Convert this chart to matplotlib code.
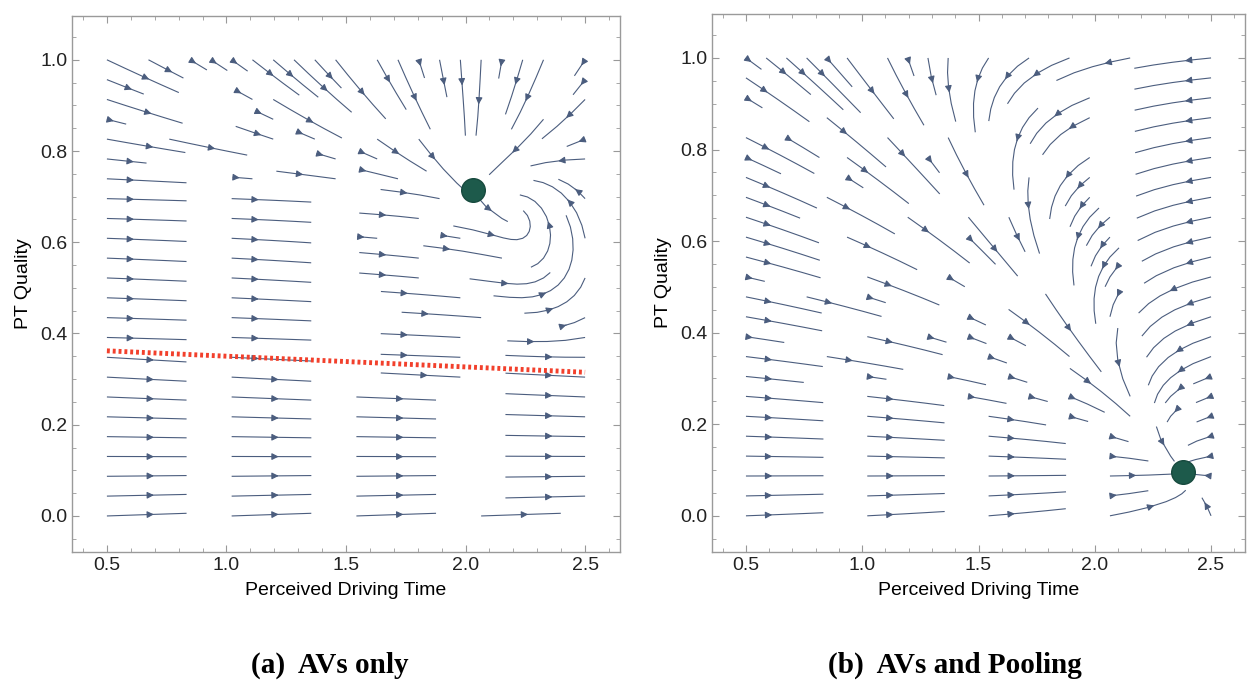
import numpy as np
import matplotlib.pyplot as plt
from matplotlib.ticker import MultipleLocator

#%% Data.
# fixed points (perceived driving time, PT quality)
fixed_a = [2.03, 0.715]
fixed_b = [2.38, 0.095]
# red separatrix in panel (a)
sep_x = [0.5, 2.5]
sep_y = [0.362, 0.315]
# slow direction in panel (b): slope of the diagonal the streams collapse onto
diag_slope_b = -0.6

x_ticks = [0.5, 1.0, 1.5, 2.0, 2.5]
y_ticks = [0.0, 0.2, 0.4, 0.6, 0.8, 1.0]
panel_titles = ["(a)  AVs only", "(b)  AVs and Pooling"]

stream_col = "#4b5d7e"
node_col = "#1d5a4b"
sep_col = "#f2402c"

#%% Vector fields on the stream grid.
gx = np.linspace(0.5, 2.5, 200)
gy = np.linspace(0.0, 1.0, 200)
X, Y = np.meshgrid(gx, gy)


def unit(u, v):
    n = np.hypot(u, v) + 1e-9
    return u / n, v / n


def field_a(X, Y):
    dx = X - fixed_a[0]
    dy = (Y - fixed_a[1]) * 1.9
    below = 1 / (1 + np.exp(dy / 0.08))
    turn = 1 / (1 + np.exp(-(dx - 0.2) / 0.05))
    s = sep_y[0] + (sep_y[1] - sep_y[0]) * (X - sep_x[0]) / (sep_x[1] - sep_x[0])
    d = Y - s
    g = np.exp(-np.clip(d, 0, None) / 0.08)
    # upper basin: attracted to the node, swinging round from below-right
    u_up = -dx + 1.6 * (-dy) * below + 1.8 * g
    v_up = (-0.7 * dy * (1 - below)
            + below * (1.3 * (dx - 0.1) * turn * (1 - g) ** 2 - 0.05))
    u_up, v_up = unit(u_up, v_up)
    # lower region: everything drifts right
    u_lo = np.ones_like(X)
    v_lo = -0.15 * (Y - 0.12)
    u_lo, v_lo = unit(u_lo, v_lo)
    w = 1 / (1 + np.exp(-d / 0.008))
    return w * u_up + (1 - w) * u_lo, w * v_up + (1 - w) * v_lo


def field_b(X, Y):
    dx = X - fixed_b[0]
    dy = Y - fixed_b[1]
    a = dy / -diag_slope_b
    b = dx + a
    u = a - 2.5 * b * (1 + 1.5 * np.clip(b, 0, None) ** 2)
    v = diag_slope_b * a
    return u, v


#%% Figure.
fig = plt.figure(figsize=(12.51, 6.81), dpi=100)
plt.rcParams['font.family'] = ['Liberation Sans', 'DejaVu Sans']
ax_a = fig.add_axes([72 / 1251, 1 - 552 / 681, 548 / 1251, 536 / 681])
ax_b = fig.add_axes([712 / 1251, 1 - 552 / 681, 533 / 1251, 538 / 681])

for ax, fld, fp in [(ax_a, field_a, fixed_a), (ax_b, field_b, fixed_b)]:
    U, V = fld(X, Y)
    ax.streamplot(X, Y, U, V, density=0.8, color=stream_col, linewidth=0.8,
                  arrowsize=1.0, arrowstyle='-|>', maxlength=0.36, minlength=0.03,
                  integration_direction='both')
    ax.plot(fp[0], fp[1], 'o', ms=17, color=node_col, mec="#174a3e", zorder=5)
    ax.set_xlim(0.354, 2.646)
    ax.set_ylim(-0.079, 1.096)
    ax.set_xticks(x_ticks)
    ax.set_yticks(y_ticks)
    ax.xaxis.set_minor_locator(MultipleLocator(0.1))
    ax.yaxis.set_minor_locator(MultipleLocator(0.05))
    ax.tick_params(which='both', direction='in', top=True, right=True,
                   color='#999999', labelsize=14, labelcolor='#222222')
    ax.tick_params(which='major', length=5)
    ax.tick_params(which='minor', length=3)
    for sp in ax.spines.values():
        sp.set_color('#9a9a9a')
        sp.set_linewidth(1.0)
    ax.set_xlabel("Perceived Driving Time", fontsize=14, labelpad=6)
    ax.set_ylabel("PT Quality", fontsize=14, labelpad=6)

ax_a.plot(sep_x, sep_y, color=sep_col, lw=3.5, ls=(0, (0.6, 0.6)), zorder=4)

fig.text(330 / 1251, 1 - 665 / 681, panel_titles[0], ha='center', va='center',
         fontsize=21, fontweight='bold', family='Liberation Serif')
fig.text(955 / 1251, 1 - 665 / 681, panel_titles[1], ha='center', va='center',
         fontsize=21, fontweight='bold', family='Liberation Serif')

fig.savefig("out.png", dpi=100)
